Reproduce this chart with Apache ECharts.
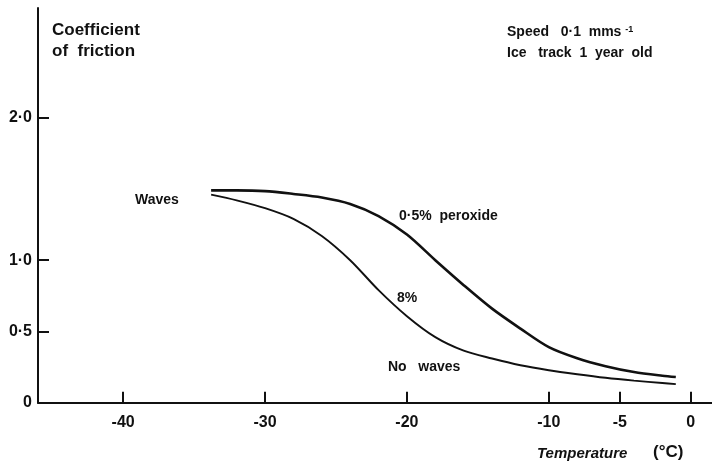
<!DOCTYPE html>
<html>
<head>
<meta charset="utf-8">
<script src="https://cdn.jsdelivr.net/npm/echarts@6/dist/echarts.min.js"></script>
<style>
html,body{margin:0;padding:0;background:#fff;}
#chart{width:712px;height:464px;}
</style>
</head>
<body>
<div id="chart"></div>
<script>
// Temperature (°C) and coefficient of friction
const tempPoints   = [-33.8, -32, -30, -28, -26, -24, -22, -20, -18, -16, -14, -12, -10, -8, -6, -4, -2, -1.05];
const peroxideMu   = [1.49, 1.49, 1.485, 1.465, 1.44, 1.395, 1.31, 1.18, 1.00, 0.825, 0.66, 0.52, 0.39, 0.312, 0.256, 0.215, 0.189, 0.18];
const eightMu      = [1.46, 1.42, 1.365, 1.29, 1.17, 1.00, 0.79, 0.607, 0.46, 0.365, 0.31, 0.263, 0.228, 0.2, 0.175, 0.155, 0.138, 0.13];
const xTicks = [-40, -30, -20, -10, -5, 0];
const yTicks = [0, 0.5, 1.0, 2.0];

const FONT = '"Liberation Sans", Arial, sans-serif';
const chart = echarts.init(document.getElementById('chart'));
const pair = (xs, ys) => xs.map((x, i) => [x, ys[i]]);

function txt(text, left, top, size, extra) {
  return Object.assign({
    type: 'text', left: left, top: top,
    style: { text: text, font: 'bold ' + size + 'px ' + FONT, fill: '#111' }
  }, extra || {});
}

chart.setOption({
  animation: false,
  grid: { left: 38, right: 0, top: 8, bottom: 61.3 },
  xAxis: {
    type: 'value', min: -46, max: 1.5,
    axisLine: { show: true, onZero: false, lineStyle: { color: '#111', width: 2 } },
    axisTick: { show: true, inside: true, length: 11, customValues: xTicks, lineStyle: { color: '#111', width: 2 } },
    axisLabel: { customValues: xTicks, margin: 12, color: '#111', fontFamily: FONT, fontWeight: 'bold', fontSize: 16,
      formatter: v => String(v) },
    splitLine: { show: false }
  },
  yAxis: {
    type: 'value', min: 0, max: 2.77,
    axisLine: { show: true, onZero: false, lineStyle: { color: '#111', width: 2 } },
    axisTick: { show: true, inside: true, length: 11, customValues: yTicks, lineStyle: { color: '#111', width: 2 } },
    axisLabel: { customValues: yTicks, margin: 6, color: '#111', fontFamily: FONT, fontWeight: 'bold', fontSize: 16,
      formatter: v => v === 0 ? '0' : v.toFixed(1).replace('.', '·') },
    splitLine: { show: false }
  },
  series: [
    { name: '0·5% peroxide', type: 'line', data: pair(tempPoints, peroxideMu), smooth: 0.3,
      showSymbol: false, lineStyle: { color: '#111', width: 2.6 } },
    { name: '8%', type: 'line', data: pair(tempPoints, eightMu), smooth: 0.3,
      showSymbol: false, lineStyle: { color: '#111', width: 1.9 } }
  ],
  graphic: [
    txt('Coefficient', 52, 22, 17),
    txt('of  friction', 52, 43, 17),
    { type: 'text', left: 507, top: 25,
      style: { text: '{a|Speed   0·1  mms }{s|-1}', rich: {
        a: { font: 'bold 14px ' + FONT, fill: '#111' },
        s: { font: 'bold 9px ' + FONT, fill: '#111', verticalAlign: 'top', padding: [0, 0, 6, 0] } } } },
    txt('Ice   track  1  year  old', 507, 46, 14),
    txt('Waves', 135, 193, 14),
    txt('0·5%  peroxide', 399, 209, 14),
    txt('8%', 397, 291, 14),
    txt('No   waves', 388, 360, 14),
    { type: 'text', left: 537, top: 446,
      style: { text: 'Temperature', font: 'italic bold 15px ' + FONT, fill: '#111' } },
    txt('(°C)', 653, 444, 17)
  ]
});
</script>
</body>
</html>
